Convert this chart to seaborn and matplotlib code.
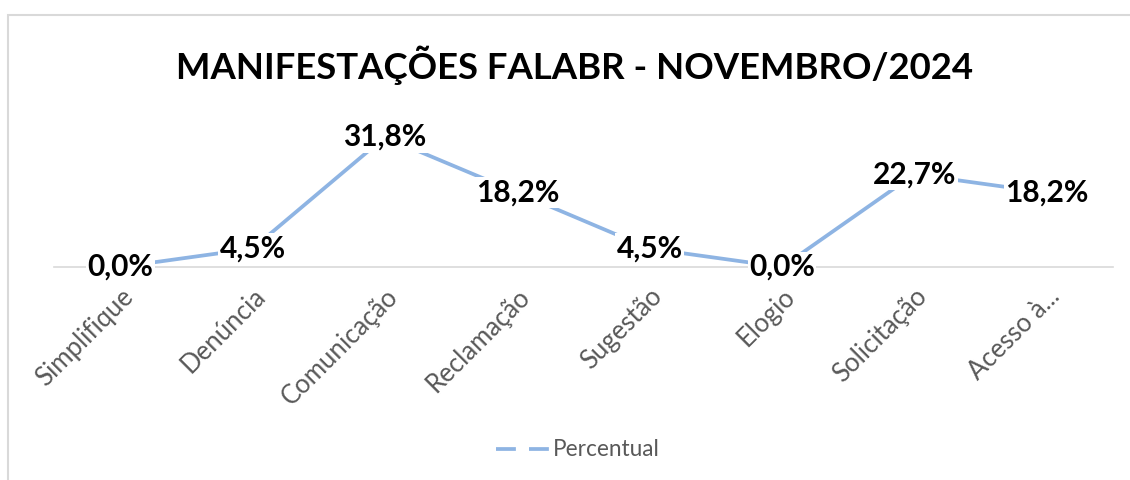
import matplotlib
matplotlib.use("Agg")
import matplotlib.pyplot as plt
from matplotlib.lines import Line2D
from matplotlib.patches import Rectangle
import seaborn as sns
import pandas as pd

categories = ["Simplifique", "Denúncia", "Comunicação", "Reclamação",
              "Sugestão", "Elogio", "Solicitação", "Acesso à..."]
values = [0.0, 4.5, 31.8, 18.2, 4.5, 0.0, 22.7, 18.2]
labels = ["0,0%", "4,5%", "31,8%", "18,2%", "4,5%", "0,0%", "22,7%", "18,2%"]
series_name = "Percentual"
title = "MANIFESTAÇÕES FALABR - NOVEMBRO/2024"

sns.set_theme(style="white")
plt.rcParams["font.family"] = ["Lato", "DejaVu Sans"]

W, H = 1130, 480
fig = plt.figure(figsize=(W / 100, H / 100), dpi=100)
ax = fig.add_axes([54 / W, (H - 267) / H, (1113 - 54) / W, (267 - 124) / H])

line_color = "#8EB4E3"
df = pd.DataFrame({"cat": categories, "val": values})
sns.lineplot(data=df, x="cat", y="val", ax=ax, color=line_color, linewidth=2.7,
             sort=False, legend=False)

ax.set_xlim(-0.5, len(categories) - 0.5)
ax.set_ylim(0, 35)
ax.set_xlabel("")
ax.set_ylabel("")
ax.set_yticks([])
for s in ["top", "right", "left"]:
    ax.spines[s].set_visible(False)
ax.spines["bottom"].set_color("#D9D9D9")
ax.spines["bottom"].set_linewidth(1.2)
ax.spines["bottom"].set_zorder(0)

ax.set_xticks(range(len(categories)))
ax.set_xticklabels(categories, rotation=45, ha="right", va="top",
                   rotation_mode="anchor", color="#595959", fontsize=18.5)
ax.tick_params(axis="x", length=0, pad=12)

for i, (v, t) in enumerate(zip(values, labels)):
    ax.text(i, v, t, ha="center", va="center", fontsize=21.5, fontweight="bold",
            color="black", zorder=5,
            bbox=dict(boxstyle="square,pad=0.05", fc="white", ec="none"))

fig.text(575 / W, 1 - 65 / H, title, ha="center", va="center",
         fontsize=26.3, fontweight="bold", color="black")

handle = Line2D([0], [0], color=line_color, linewidth=2.7,
                linestyle=(0, (5.3, 3.5)), dash_capstyle="butt")
fig.legend([handle], [series_name], loc="center", bbox_to_anchor=(578 / W, 1 - 450 / H),
           frameon=False, fontsize=16.3, labelcolor="#595959", handlelength=2.33,
           handletextpad=0.2)

fig.patches.append(Rectangle((8 / W, -0.1), 1.2, 1.1 - 15 / H, transform=fig.transFigure,
                             fill=False, edgecolor="#D9D9D9", linewidth=1.5))

fig.savefig("out.png", dpi=100, facecolor="white")
